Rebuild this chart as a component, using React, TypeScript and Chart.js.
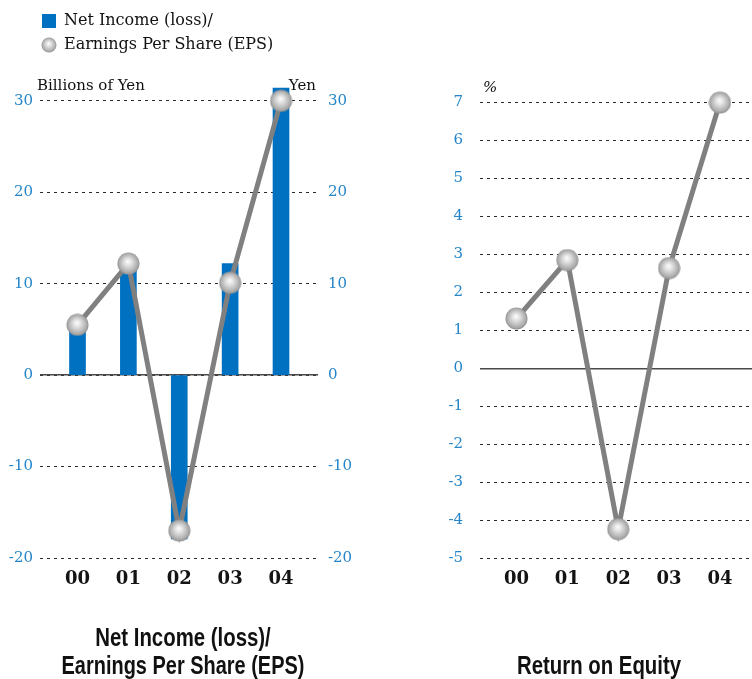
import React, { useEffect, useRef } from 'react';
import { Chart, registerables } from 'chart.js';

Chart.register(...registerables);

// ---- data ----
const years = ['00', '01', '02', '03', '04'];
const netIncome = [5.0, 11.5, -17.9, 12.2, 31.4]; // Billions of Yen
const eps = [5.5, 12.2, -17.0, 10.1, 30.0]; // Yen
const roe = [1.31, 2.85, -4.24, 2.64, 7.0]; // %
const leftTicks = [-20, -10, 0, 10, 20, 30];
const roeTicks = [-5, -4, -3, -2, -1, 0, 1, 2, 3, 4, 5, 6, 7];

const netIncomeLabel = 'Net Income (loss)/';
const epsLabel = 'Earnings Per Share (EPS)';
const leftTitle = ['Net Income (loss)/', 'Earnings Per Share (EPS)'];
const rightTitle = 'Return on Equity';
const leftUnit = 'Billions of Yen';
const rightUnit = 'Yen';
const roeUnit = '%';

// ---- styles ----
const BLUE = '#0070c0';
const TICK_BLUE = '#2585c9';
const LINE_GRAY = '#808080';
const SERIF = "'DejaVu Serif', serif";
const TITLE_FONT = "'Liberation Sans', Arial, sans-serif";
const TITLE_SQUEEZE = 0.815;

function makeSphere(d: number): HTMLCanvasElement {
  const c = document.createElement('canvas');
  c.width = d;
  c.height = d;
  const g = c.getContext('2d')!;
  const r = d / 2;
  const grad = g.createRadialGradient(r * 0.95, r * 0.8, 0, r, r, r);
  grad.addColorStop(0, '#ffffff');
  grad.addColorStop(0.35, '#dedede');
  grad.addColorStop(0.8, '#adadad');
  grad.addColorStop(1, '#8a8a8a');
  g.fillStyle = grad;
  g.beginPath();
  g.arc(r, r, r - 0.5, 0, Math.PI * 2);
  g.fill();
  return c;
}

const gridCommon = {
  color: '#2a2a2a',
  lineWidth: 1,
  drawTicks: false,
};

function zeroAxis(min: number, max: number) {
  return {
    type: 'linear',
    position: 'left',
    min,
    max,
    afterBuildTicks: (s: any) => {
      s.ticks = [{ value: 0 }];
    },
    ticks: { display: false },
    grid: { color: '#4a4a4a', lineWidth: 1.5, drawTicks: false },
    border: { display: false },
  };
}

// condense the Chart.js title block horizontally (narrow bold face is not installed)
function squeezeTitle(chart: any, k: number) {
  const tb = chart.titleBlock;
  if (!tb) return;
  const orig = tb.draw.bind(tb);
  tb.draw = function (area: any) {
    const ctx = this.ctx;
    const cx = (this.left + this.right) / 2;
    ctx.save();
    ctx.translate(cx, 0);
    ctx.scale(k, 1);
    ctx.translate(-cx, 0);
    orig(area);
    ctx.restore();
  };
  chart.draw();
}

export default function App() {
  const leftRef = useRef<HTMLCanvasElement>(null);
  const rightRef = useRef<HTMLCanvasElement>(null);

  useEffect(() => {
    const bigSphere = makeSphere(23);
    const smallSphere = makeSphere(16);
    const LMIN = -20;
    const LMAX = 34.14;
    const RMIN = -5;
    const RMAX = 8.07;

    const meas = document.createElement('canvas').getContext('2d')!;
    meas.font = `15px ${SERIF}`;
    const widest = Math.max(...leftTicks.map((v) => meas.measureText(String(v)).width));

    const leftPlugin = {
      id: 'leftUnits',
      afterDraw(chart: any) {
        const { ctx, chartArea, scales } = chart;
        const y = scales.y.getPixelForValue(30) - 15;
        ctx.save();
        ctx.font = `15px ${SERIF}`;
        ctx.fillStyle = '#111';
        ctx.textBaseline = 'middle';
        ctx.textAlign = 'left';
        ctx.fillText(leftUnit, chartArea.left - 3, y);
        ctx.textAlign = 'right';
        ctx.fillText(rightUnit, chartArea.right - 2, y);
        ctx.restore();
      },
    };

    const rightPlugin = {
      id: 'rightUnits',
      afterDraw(chart: any) {
        const { ctx, chartArea, scales } = chart;
        const y = scales.y.getPixelForValue(7) - 14;
        ctx.save();
        ctx.font = `italic 15px ${SERIF}`;
        ctx.fillStyle = '#111';
        ctx.textBaseline = 'middle';
        ctx.textAlign = 'left';
        ctx.fillText(roeUnit, chartArea.left + 3, y);
        ctx.restore();
      },
    };

    const xAxis = (min: number, max: number) => ({
      type: 'linear',
      offset: false,
      min,
      max,
      afterBuildTicks: (s: any) => {
        s.ticks = years.map((_, i) => ({ value: i }));
      },
      afterFit: (s: any) => {
        s.paddingLeft = 0;
        s.paddingRight = 0;
      },
      ticks: {
        callback: (v: any) => years[Math.round(Number(v))],
        font: { family: SERIF, size: 18, weight: 'bold' },
        color: '#141414',
        padding: 11,
      },
      grid: { display: false, drawTicks: false, offset: false },
      border: { display: false },
    });

    const titleFont = { family: TITLE_FONT, size: 25, weight: 'bold', lineHeight: 28 / 25 };

    const left = new Chart(leftRef.current!, {
      type: 'bar',
      data: {
        datasets: [
          {
            type: 'bar',
            label: netIncomeLabel,
            data: years.map((_, i) => ({ x: i, y: netIncome[i] })),
            backgroundColor: BLUE,
            borderWidth: 0,
            barThickness: 16,
            yAxisID: 'y',
            order: 1,
          } as any,
          {
            type: 'line',
            label: epsLabel,
            data: years.map((_, i) => ({ x: i, y: eps[i] })),
            borderColor: LINE_GRAY,
            borderWidth: 5,
            pointStyle: bigSphere,
            pointRadius: 11,
            tension: 0,
            yAxisID: 'y1',
            order: 0,
          } as any,
        ],
      },
      options: {
        responsive: false,
        animation: false,
        events: [],
        layout: { autoPadding: false, padding: { left: 34, right: 28, top: 5, bottom: 0 } },
        plugins: {
          tooltip: { enabled: false },
          legend: {
            display: true,
            position: 'top',
            align: 'start',
            labels: {
              usePointStyle: true,
              boxWidth: 14,
              boxHeight: 14,
              padding: 8,
              color: '#111',
              font: { family: SERIF, size: 16 },
              sort: (a: any, b: any) => a.datasetIndex - b.datasetIndex,
              generateLabels: (chart: any) => {
                const items = (Chart.defaults.plugins.legend.labels as any).generateLabels(chart);
                return items.map((it: any) =>
                  it.datasetIndex === 0
                    ? { ...it, pointStyle: 'rect', fillStyle: BLUE, strokeStyle: BLUE, lineWidth: 0 }
                    : { ...it, pointStyle: smallSphere, lineWidth: 0 }
                );
              },
            },
          },
          title: {
            display: true,
            position: 'bottom',
            text: leftTitle,
            color: '#111',
            font: titleFont,
            padding: { top: 23.4, bottom: -2 },
          },
        },
        scales: {
          x: xAxis(-0.737, 4.727) as any,
          y: {
            type: 'linear',
            position: 'left',
            min: LMIN,
            max: LMAX,
            afterBuildTicks: (s: any) => {
              s.ticks = leftTicks.map((v) => ({ value: v }));
            },
            afterFit: (s: any) => {
              s.width = 6;
            },
            ticks: {
              mirror: true,
              crossAlign: 'far',
              padding: -(7 + widest),
              callback: (v: any) => String(v),
              font: { family: SERIF, size: 15 },
              color: TICK_BLUE,
            },
            grid: gridCommon,
            border: { display: false, dash: [3, 4] },
          } as any,
          yz: zeroAxis(LMIN, LMAX) as any,
          y1: {
            type: 'linear',
            position: 'right',
            min: LMIN,
            max: LMAX,
            afterBuildTicks: (s: any) => {
              s.ticks = leftTicks.map((v) => ({ value: v }));
            },
            afterFit: (s: any) => {
              s.width = 14;
            },
            ticks: {
              mirror: true,
              crossAlign: 'far',
              padding: 10 + widest,
              callback: (v: any) => String(v),
              font: { family: SERIF, size: 15 },
              color: TICK_BLUE,
            },
            grid: { display: false, drawTicks: false },
            border: { display: false },
          } as any,
        },
      } as any,
      plugins: [leftPlugin],
    });

    const right = new Chart(rightRef.current!, {
      type: 'line',
      data: {
        datasets: [
          {
            label: rightTitle,
            data: years.map((_, i) => ({ x: i, y: roe[i] })),
            borderColor: LINE_GRAY,
            borderWidth: 5,
            pointStyle: bigSphere,
            pointRadius: 11,
            tension: 0,
          } as any,
        ],
      },
      options: {
        responsive: false,
        animation: false,
        events: [],
        layout: { autoPadding: false, padding: { left: 66, right: 0, top: 62, bottom: 0 } },
        plugins: {
          tooltip: { enabled: false },
          legend: { display: false },
          title: {
            display: true,
            position: 'bottom',
            text: rightTitle,
            color: '#111',
            font: titleFont,
            padding: { top: 51.4, bottom: -2 },
          },
        },
        scales: {
          x: xAxis(-0.717, 4.63) as any,
          y: {
            type: 'linear',
            position: 'left',
            min: RMIN,
            max: RMAX,
            afterBuildTicks: (s: any) => {
              s.ticks = roeTicks.map((v) => ({ value: v }));
            },
            afterFit: (s: any) => {
              s.width = 34;
            },
            ticks: {
              callback: (v: any) => String(v),
              font: { family: SERIF, size: 15 },
              color: TICK_BLUE,
              padding: 17,
            },
            grid: gridCommon,
            border: { display: false, dash: [3, 4] },
          } as any,
          yz: zeroAxis(RMIN, RMAX) as any,
        },
      } as any,
      plugins: [rightPlugin],
    });

    squeezeTitle(left, TITLE_SQUEEZE);
    squeezeTitle(right, TITLE_SQUEEZE);

    return () => {
      left.destroy();
      right.destroy();
    };
  }, []);

  return (
    <div
      style={{
        position: 'absolute',
        left: 0,
        top: 0,
        width: 752,
        height: 679,
        overflow: 'hidden',
        background: '#fff',
      }}
    >
      <canvas
        ref={leftRef}
        width={360}
        height={679}
        style={{ position: 'absolute', left: 0, top: 0, display: 'block' }}
      />
      <canvas
        ref={rightRef}
        width={372}
        height={679}
        style={{ position: 'absolute', left: 380, top: 0, display: 'block' }}
      />
    </div>
  );
}
